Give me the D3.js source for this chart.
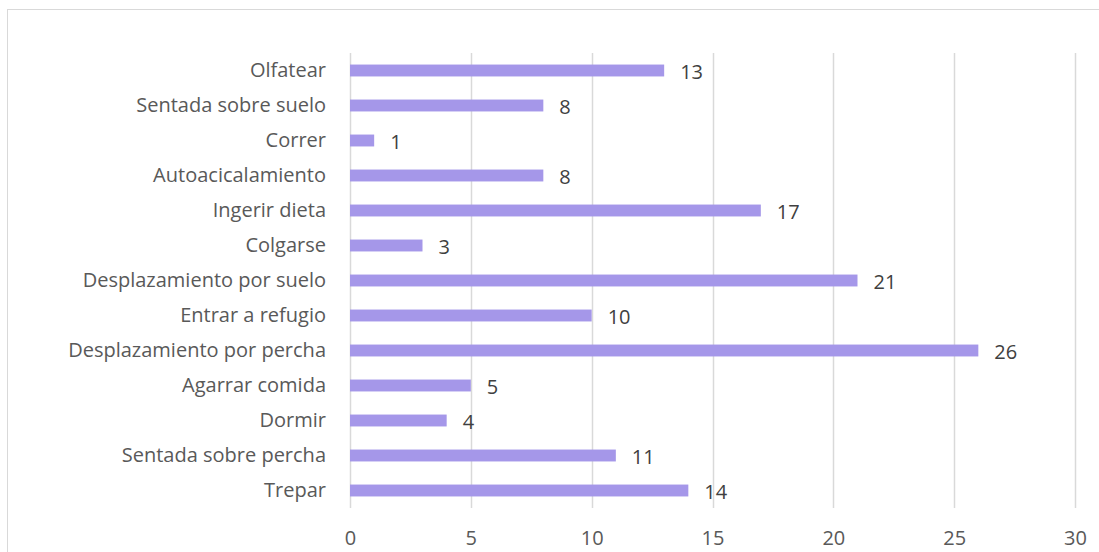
<!DOCTYPE html>
<html>
<head>
<meta charset="utf-8">
<script src="https://cdn.jsdelivr.net/npm/d3@7"></script>
<style>
  body { margin: 0; background: #fff; }
  text { font-family: "Open Sans", Lato, sans-serif; }
</style>
</head>
<body>
<svg id="chart" width="1099" height="552"></svg>
<script>
// Data (top to bottom)
const categories = [
  'Olfatear', 'Sentada sobre suelo', 'Correr', 'Autoacicalamiento',
  'Ingerir dieta', 'Colgarse', 'Desplazamiento por suelo', 'Entrar a refugio',
  'Desplazamiento por percha', 'Agarrar comida', 'Dormir',
  'Sentada sobre percha', 'Trepar'
];
const values = [13, 8, 1, 8, 17, 3, 21, 10, 26, 5, 4, 11, 14];
const xTicks = [0, 5, 10, 15, 20, 25, 30];

const svg = d3.select('#chart');
const width = 1099, height = 552;
const margin = { top: 53, right: 24, bottom: 44, left: 350 };
const innerW = width - margin.left - margin.right;
const innerH = height - margin.top - margin.bottom;

const textColor = '#595959';
const gridColor = '#d9d9d9';
const barColor = '#a597e9';
const fontSize = '20px';

// chart border
svg.append('rect')
  .attr('x', 7.5).attr('y', 9.5)
  .attr('width', width + 10).attr('height', height + 10)
  .attr('fill', 'none')
  .attr('stroke', '#d9d9d9')
  .attr('stroke-width', 1);

const g = svg.append('g').attr('transform', `translate(${margin.left},${margin.top})`);

const x = d3.scaleLinear().domain([0, 30]).range([0, innerW]);
const y = d3.scaleBand().domain(categories).range([0, innerH]).paddingInner(0.66).paddingOuter(0.33);

// vertical gridlines
g.selectAll('.grid')
  .data(xTicks)
  .enter()
  .append('line')
  .attr('x1', d => Math.round(x(d)) + 0.5)
  .attr('x2', d => Math.round(x(d)) + 0.5)
  .attr('y1', 0)
  .attr('y2', innerH)
  .attr('stroke', gridColor)
  .attr('stroke-width', 1.5);

// x axis tick labels
const xAxis = d3.axisBottom(x).tickValues(xTicks).tickSize(0).tickPadding(23);
const xg = g.append('g').attr('transform', `translate(0,${innerH})`).call(xAxis);
xg.select('.domain').remove();
xg.selectAll('text')
  .style('font-size', fontSize)
  .style('font-family', '"Open Sans", sans-serif')
  .attr('fill', textColor);

// y axis category labels
const yAxis = d3.axisLeft(y).tickSize(0).tickPadding(24);
const yg = g.append('g').call(yAxis);
yg.select('.domain').remove();
yg.selectAll('text')
  .style('font-size', fontSize)
  .style('font-family', '"Open Sans", sans-serif')
  .attr('fill', textColor);

// bars
g.selectAll('.bar')
  .data(categories)
  .enter()
  .append('rect')
  .attr('class', 'bar')
  .attr('x', 0)
  .attr('y', d => y(d))
  .attr('width', (d, i) => x(values[i]))
  .attr('height', y.bandwidth())
  .attr('fill', barColor);

// value labels
g.selectAll('.val')
  .data(categories)
  .enter()
  .append('text')
  .attr('x', (d, i) => x(values[i]) + 16)
  .attr('y', d => y(d) + y.bandwidth() / 2 + 2)
  .attr('dy', '0.32em')
  .style('font-size', fontSize)
  .attr('fill', '#404040')
  .text((d, i) => values[i]);
</script>
</body>
</html>
